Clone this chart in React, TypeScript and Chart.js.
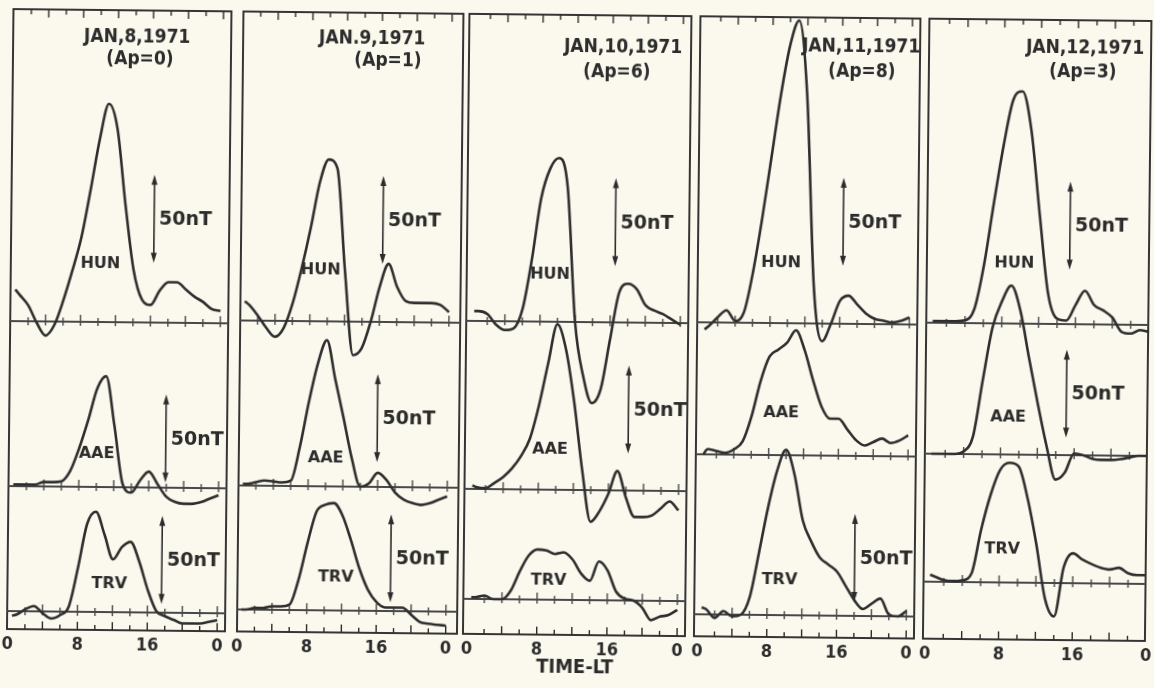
import React, { useEffect, useRef } from 'react';
import { Chart, registerables } from 'chart.js';

Chart.register(...registerables);

// ---------- data (nT above each station's baseline, local time hours) ----------
const HOURS = [0.5, 1, 2, 3, 4, 5, 6, 7, 8, 9, 10, 11, 12, 13, 14, 15, 16, 17, 18, 19, 20, 21, 22, 23, 24];

const HUN_JAN8 = [18, 15, 9, -1, -8, -2, 12, 29, 48, 75, 104, 124, 110, 67, 30, 13, 10, 18, 23, 23, 19, 15, 12, 8, 7];
const AAE_JAN8 = [1, 1, 1, 1, 2.5, 2.5, 3, 9, 22, 38, 56, 63, 35, 2, -3, 4, 9, 2, -5, -8, -9, -9, -8, -6, -4];
const TRV_JAN8 = [-2.5, -2, 1, 3, -1, -4, -2, 3, 25, 50, 57, 44, 30, 37, 40, 29, 13, 1, -2, -4, -6, -6, -6, -5, -4];

const HUN_JAN9 = [11, 9, 3, -4, -9, -4, 10, 30, 53, 79, 92, 87, 28, -19, -15, 0, 20, 33, 20, 12, 11, 11, 11, 10, 6];
const AAE_JAN9 = [1, 1, 2, 3, 2.5, 2, 3, 22, 48, 70, 83, 61, 39, 16, 0, 2, 8, 4, -3, -7, -9, -10, -9, -7, -5];
const TRV_JAN9 = [0, 0, 1, 1, 2, 2, 3, 17, 38, 56, 60, 61, 54, 40, 24, 12, 5, 2, 2, 2, -2, -6, -7, -7.5, -8];

const HUN_JAN10 = [5.6, 5.6, 4, -2, -5, -4, 7, 35, 70, 87, 93, 77, 0, -31, -46, -38, -10, 17, 22, 19, 10, 7, 5, 2, -1];
const AAE_JAN10 = [2, 1, 0.5, 3.5, 7, 12, 19, 29, 48, 72, 94, 80, 50, 11, -18, -12, -2, 11, -4, -15, -15, -14, -10, -6, -11];
const TRV_JAN10 = [1, 1, 2, 0, 0, 5, 16, 25, 28.5, 28, 26, 27, 23, 15, 11, 22, 17, 5, 1, 0, -4, -11, -9, -8, -5];

const HUN_JAN11 = [-4, -2, 3, 7, 1, 6, 29, 60, 95, 130, 158, 172, 130, 20, -10, 0, 13, 16, 11, 6, 3, 2, 1, 2, 4];
const AAE_JAN11 = [0, 3, 2, 1, 3, 7.6, 22, 42, 56, 60, 64, 71, 60, 43, 28, 21, 21, 15, 9, 6, 8, 10, 7.5, 9, 12];
const TRV_JAN11 = [4, 3, -2, 2, -1, 0, 10, 35, 61, 82, 94, 80, 54, 42, 33, 29, 25, 17, 9, 4, 7, 10, 1, 0, 3];

const HUN_JAN12 = [1, 1, 1, 1, 1.5, 8, 33, 68, 101, 127, 132, 110, 62, 17, 3, 2, 11, 19, 11, 8, 4, -4, -5, -3, -4];
const AAE_JAN12 = [0, 0, 0, 0, 1.5, 10, 42, 72, 87, 96, 82, 55, 29, 5, -14, -10, 1, 0, -2, -2.5, -2.5, -2, -1, 0, 0];
const TRV_JAN12 = [4, 3, 1, 0.5, 1, 5, 30, 50, 64, 68, 66, 48, 22, -9, -19, 9, 17, 13.5, 11, 9, 8, 9, 6, 5, 5];

const STATIONS = ['HUN', 'AAE', 'TRV'];
const DAY_TITLES = ['JAN,8,1971', 'JAN.9,1971', 'JAN,10,1971', 'JAN,11,1971', 'JAN,12,1971'];
const AP_TITLES = ['(Ap=0)', '(Ap=1)', '(Ap=6)', '(Ap=8)', '(Ap=3)'];
const AXIS_TICK_HOURS = [0, 8, 16, 24];
const AXIS_TICK_LABELS = ['0', '8', '16', '0'];
const SCALE_BAR_NT = 50;
const SCALE_BAR_LABEL = '50nT';
const AXIS_TITLE = 'TIME-LT';

const SERIES = [
  [HUN_JAN8, AAE_JAN8, TRV_JAN8],
  [HUN_JAN9, AAE_JAN9, TRV_JAN9],
  [HUN_JAN10, AAE_JAN10, TRV_JAN10],
  [HUN_JAN11, AAE_JAN11, TRV_JAN11],
  [HUN_JAN12, AAE_JAN12, TRV_JAN12],
];

// ---------- layout (page pixels / annotation anchors) ----------
const PAGE_W = 1154;
const PAGE_H = 688;
const FRAME_TOP = 15;
const FRAME_BOTTOM = 635;
const PAD_X = 14;
const PX_PER_NT = 1.76;
const FONT = '"DejaVu Sans", sans-serif';
const FONT_NARROW = '"DejaVu Sans Condensed", "Liberation Sans Narrow", "DejaVu Sans", sans-serif';
const INK = '#2c2c2c';
const PAPER = '#fbf9ee';

type Arrow = [number, number] | null;
interface PanelLayout {
  left: number; right: number; xMin: number; xMax: number;
  base: number[]; title: [number, number]; ap: [number, number];
  labels: [number, number][]; arrows: Arrow[];
}

const PANELS: PanelLayout[] = [
  { left: 10, right: 228, xMin: -0.05, xMax: 24.9, base: [327, 492, 617], title: [134, 42], ap: [137, 64],
    labels: [[10.2, 33], [10.0, 19], [11.6, 16]], arrows: [[16.3, 34], [17.9, 3], [17.6, 5]] },
  { left: 240, right: 460, xMin: 0, xMax: 25.3, base: [324, 489, 613], title: [369, 41], ap: [385, 63],
    labels: [[9.2, 29], [10.0, 16], [11.3, 19]], arrows: [[16.3, 33], [15.9, 14], [17.6, 5]] },
  { left: 466, right: 688, xMin: -0.4, xMax: 24.9, base: [322, 490, 600], title: [620, 47], ap: [614, 72],
    labels: [[9.1, 27], [9.3, 23], [9.3, 11]], arrows: [[16.5, 32], [18.2, 21], null] },
  { left: 697, right: 917, xMin: -0.35, xMax: 24.9, base: [321, 453, 613], title: [858, 44], ap: [859, 69],
    labels: [[9.2, 34], [9.4, 24], [9.4, 20]], arrows: [[16.3, 33], null, [18.0, 8]] },
  { left: 926, right: 1148, xMin: -0.2, xMax: 23.9, base: [319, 450, 578], title: [1082, 43], ap: [1080, 67],
    labels: [[9.3, 34], [8.8, 21], [8.3, 19]], arrows: [[15.3, 31], [15.1, 10], null] },
];
const AXIS_TITLE_POS: [number, number] = [578, 668];

const Y_MAX = (FRAME_BOTTOM - FRAME_TOP) / PX_PER_NT;
const baseOffset = (py: number) => (FRAME_BOTTOM - py) / PX_PER_NT;

function drawArrow(ctx: CanvasRenderingContext2D, x: number, yTop: number, yBot: number) {
  ctx.save();
  ctx.strokeStyle = INK;
  ctx.fillStyle = INK;
  ctx.lineWidth = 1.6;
  ctx.beginPath();
  ctx.moveTo(x, yTop + 6);
  ctx.lineTo(x, yBot - 6);
  ctx.stroke();
  ctx.beginPath();
  ctx.moveTo(x, yTop);
  ctx.lineTo(x - 3, yTop + 10);
  ctx.lineTo(x + 3, yTop + 10);
  ctx.closePath();
  ctx.fill();
  ctx.beginPath();
  ctx.moveTo(x, yBot);
  ctx.lineTo(x - 3, yBot - 10);
  ctx.lineTo(x + 3, yBot - 10);
  ctx.closePath();
  ctx.fill();
  ctx.restore();
}

function makePlugin(pi: number) {
  const p = PANELS[pi];
  const canvasLeft = p.left - PAD_X;
  return {
    id: 'panelDecor' + pi,
    beforeDatasetsDraw(chart: any) {
      const ctx: CanvasRenderingContext2D = chart.ctx;
      const { left, right, top, bottom } = chart.chartArea;
      const xs = chart.scales.x;
      const ys = chart.scales.y;
      ctx.save();
      ctx.strokeStyle = INK;
      // frame
      ctx.lineWidth = 1.9;
      ctx.strokeRect(left, top, right - left, bottom - top);
      // frame ticks
      ctx.lineWidth = 1.4;
      for (let h = 2; h <= 24; h += 2) {
        if (h > p.xMax) continue;
        const x = xs.getPixelForValue(h);
        const len = h % 4 === 0 ? 8 : 5;
        ctx.beginPath();
        ctx.moveTo(x, top);
        ctx.lineTo(x, top + len);
        ctx.moveTo(x, bottom);
        ctx.lineTo(x, bottom - len);
        ctx.stroke();
      }
      // baselines with ticks
      STATIONS.forEach((_, si) => {
        const y = ys.getPixelForValue(baseOffset(p.base[si]));
        ctx.strokeStyle = '#484848';
        ctx.lineWidth = 2;
        ctx.beginPath();
        ctx.moveTo(left, y);
        ctx.lineTo(right, y);
        ctx.stroke();
        ctx.lineWidth = 1.4;
        for (let h = 2; h <= 24; h += 2) {
          if (h > p.xMax) continue;
          const x = xs.getPixelForValue(h);
          const up = h % 4 === 0 ? 7 : 4;
          ctx.beginPath();
          ctx.moveTo(x, y - up);
          ctx.lineTo(x, y + 4);
          ctx.stroke();
        }
      });
      ctx.restore();
    },
    afterDatasetsDraw(chart: any) {
      const ctx: CanvasRenderingContext2D = chart.ctx;
      const { bottom } = chart.chartArea;
      const xs = chart.scales.x;
      const ys = chart.scales.y;
      ctx.save();
      ctx.fillStyle = INK;
      // tick labels
      ctx.font = `bold 18px ${FONT_NARROW}`;
      ctx.textAlign = 'center';
      ctx.textBaseline = 'top';
      AXIS_TICK_HOURS.forEach((h, i) => {
        ctx.fillText(AXIS_TICK_LABELS[i], xs.getPixelForValue(h), bottom + 6);
      });
      // titles
      ctx.textBaseline = 'middle';
      ctx.font = `bold 19px ${FONT_NARROW}`;
      ctx.fillText(DAY_TITLES[pi], p.title[0] - canvasLeft, p.title[1]);
      ctx.fillText(AP_TITLES[pi], p.ap[0] - canvasLeft, p.ap[1]);
      // station labels
      ctx.font = `bold 16px ${FONT}`;
      STATIONS.forEach((name, si) => {
        const off = baseOffset(p.base[si]);
        const [h, v] = p.labels[si];
        ctx.fillText(name, xs.getPixelForValue(h), ys.getPixelForValue(off + v));
      });
      // scale arrows
      ctx.font = `bold 19px ${FONT}`;
      ctx.textAlign = 'left';
      STATIONS.forEach((_, si) => {
        const a = p.arrows[si];
        if (!a) return;
        const off = baseOffset(p.base[si]);
        const x = xs.getPixelForValue(a[0]);
        const yBot = ys.getPixelForValue(off + a[1]);
        const yTop = ys.getPixelForValue(off + a[1] + SCALE_BAR_NT);
        drawArrow(ctx, x, yTop, yBot);
        ctx.fillText(SCALE_BAR_LABEL, x + 5, (yTop + yBot) / 2 + 1);
      });
      // axis title (in the middle panel)
      if (AXIS_TITLE_POS[0] > p.left && AXIS_TITLE_POS[0] < p.right) {
        ctx.textAlign = 'center';
        ctx.font = `bold 20px ${FONT_NARROW}`;
        ctx.fillText(AXIS_TITLE, AXIS_TITLE_POS[0] - canvasLeft, AXIS_TITLE_POS[1]);
      }
      ctx.restore();
    },
  };
}

export default function App() {
  const refs = useRef<(HTMLCanvasElement | null)[]>([]);

  useEffect(() => {
    const charts: Chart[] = [];
    PANELS.forEach((p, pi) => {
      const canvas = refs.current[pi];
      if (!canvas) return;
      const datasets = STATIONS.map((name, si) => {
        const off = baseOffset(p.base[si]);
        const vals = SERIES[pi][si];
        return {
          label: name,
          data: HOURS.map((h, i) => ({ x: h, y: off + vals[i] })),
          borderColor: '#2e2e2e',
          borderWidth: 2.6,
          pointRadius: 0,
          fill: false,
          cubicInterpolationMode: 'monotone' as const,
          clip: false as any,
        };
      });
      const chart = new Chart(canvas, {
        type: 'line',
        data: { datasets },
        options: {
          animation: false,
          responsive: false,
          maintainAspectRatio: false,
          devicePixelRatio: 1,
          layout: { padding: { left: PAD_X, right: PAD_X, top: FRAME_TOP, bottom: PAGE_H - FRAME_BOTTOM } },
          scales: {
            x: { type: 'linear', min: p.xMin, max: p.xMax, display: false },
            y: { type: 'linear', min: 0, max: Y_MAX, display: false },
          },
          plugins: { legend: { display: false }, tooltip: { enabled: false } },
        },
        plugins: [makePlugin(pi)],
      });
      charts.push(chart);
    });
    return () => charts.forEach((c) => c.destroy());
  }, []);

  return (
    <div style={{ position: 'fixed', left: 0, top: 0, width: PAGE_W, height: PAGE_H, background: PAPER, overflow: 'hidden' }}>
      <div
        style={{
          position: 'absolute', left: 0, top: 0, width: PAGE_W, height: PAGE_H,
          transform: 'rotate(0.6deg)', transformOrigin: `${PAGE_W / 2}px ${PAGE_H / 2}px`,
        }}
      >
        {PANELS.map((p, pi) => {
          const w = p.right - p.left + 2 * PAD_X;
          return (
            <canvas
              key={pi}
              ref={(el) => { refs.current[pi] = el; }}
              width={w}
              height={PAGE_H}
              style={{ position: 'absolute', left: p.left - PAD_X, top: 0, width: w, height: PAGE_H }}
            />
          );
        })}
      </div>
    </div>
  );
}
